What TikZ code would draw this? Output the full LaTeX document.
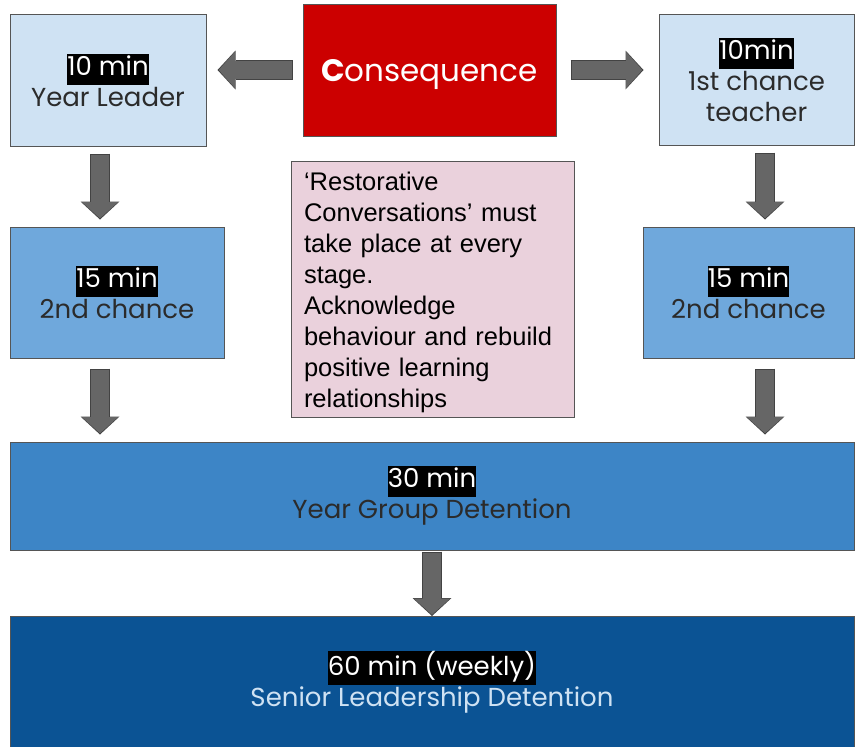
\documentclass[tikz,border=0pt]{standalone}
\usepackage{fontspec}
\setmainfont{Poppins}
\newfontfamily\notefont{Liberation Sans}
\usetikzlibrary{arrows.meta, calc}

\definecolor{paleblue}{HTML}{CFE2F3}
\definecolor{midblue}{HTML}{6FA8DC}
\definecolor{groupblue}{HTML}{3D85C6}
\definecolor{seniorblue}{HTML}{0B5394}
\definecolor{consred}{HTML}{CC0000}
\definecolor{notepink}{HTML}{EAD1DC}
\definecolor{arrowfill}{HTML}{666666}
\definecolor{arrowedge}{HTML}{434343}
\definecolor{boxedge}{HTML}{555555}
\definecolor{boxtext}{HTML}{2B2B2B}

\newcommand{\mins}[1]{{\setlength{\fboxsep}{0pt}\colorbox{black}{\textcolor{white}{\strut #1}}}}

\begin{document}
\begin{tikzpicture}
[x=1pt,y=-1pt,
 stage/.style={draw=boxedge,line width=1pt,align=center,text=boxtext,
               font=\fontsize{26}{31}\selectfont,inner sep=0pt},
 notebox/.style={draw=boxedge,line width=1pt,fill=notepink,align=left,
                 font=\notefont\fontsize{25.5}{31}\selectfont,
                 text width=257pt,minimum height=256pt,inner xsep=13pt},
 blockarrow/.style={draw=arrowfill,line width=18pt,shorten <=1pt,shorten >=1.3pt,
                    -{Triangle[width=36pt 0 0,length=16pt 0 0,line width=0pt 0 0]},
                    preaction={draw=arrowedge,line width=20pt,shorten <=0pt,shorten >=0pt,
                               -{Triangle[width=39pt 0 0,length=18pt 0 0,line width=0pt 0 0]}}}]

\useasboundingbox (0,0) rectangle (860,747);

% top row
\node[stage,fill=consred,text=white,minimum width=253pt,minimum height=132pt,
      text height=22pt,text depth=0pt,
      font=\fontsize{31}{36}\selectfont] (consequence) at (429.5,70) {\textbf{C}onsequence};
\node[stage,fill=paleblue,minimum width=196pt,minimum height=132pt] (leader) at (108,80)
      {\mins{10 min}\\Year Leader};
\node[stage,fill=paleblue,minimum width=195pt,minimum height=131pt] (teacher) at (756.5,79.5)
      {\mins{10min}\\1st chance\\teacher};

% second chances
\node[stage,fill=midblue,minimum width=214pt,minimum height=131pt] (leftsecond) at (117,292.5)
      {\mins{15 min}\\2nd chance};
\node[stage,fill=midblue,minimum width=211pt,minimum height=131pt] (rightsecond) at (748.5,292.5)
      {\mins{15 min}\\2nd chance};

\node[notebox] (restorative) at (432.5,289)
      {\rule{0pt}{26pt}‘Restorative\\Conversations’ must\\take place at every\\stage.\\Acknowledge\\behaviour and rebuild\\positive learning\\relationships};

% detentions
\node[stage,fill=groupblue,minimum width=844pt,minimum height=108pt] (yeargroup) at (432,496)
      {\mins{30 min}\\Year Group Detention};
\node[stage,fill=seniorblue,text=paleblue,minimum width=844pt,minimum height=131pt] (senior) at (432,682)
      {\mins{60 min (weekly)}\\Senior Leadership Detention};

\coordinate (leftlane) at (100,0);
\coordinate (rightlane) at (765,0);

\draw[blockarrow] ($(consequence.west)+(-10,0)$) -- ($(leader.east |- consequence.west)+(11,0)$);
\draw[blockarrow] ($(consequence.east)+(14,0)$) -- ($(teacher.west |- consequence.east)+(-15,0)$);
\draw[blockarrow] ($(leader.south -| leftlane)+(0,7)$) -- ($(leftsecond.north -| leftlane)+(0,-7)$);
\draw[blockarrow] ($(teacher.south -| rightlane)+(0,7)$) -- ($(rightsecond.north -| rightlane)+(0,-7)$);
\draw[blockarrow] ($(leftsecond.south -| leftlane)+(0,10)$) -- ($(yeargroup.north -| leftlane)+(0,-7)$);
\draw[blockarrow] ($(rightsecond.south -| rightlane)+(0,10)$) -- ($(yeargroup.north -| rightlane)+(0,-7)$);
\draw[blockarrow] ($(yeargroup.south)+(0,1)$) -- (senior.north);
\end{tikzpicture}
\end{document}
